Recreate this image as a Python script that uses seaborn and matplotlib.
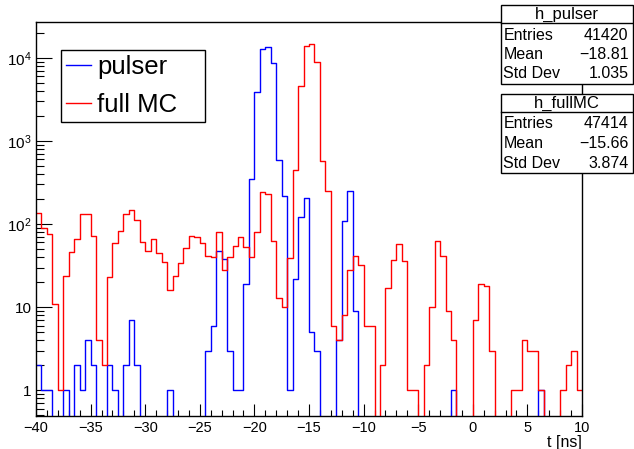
import numpy as np
import pandas as pd
import seaborn as sns
import matplotlib.pyplot as plt
from matplotlib.ticker import MultipleLocator, LogLocator, FixedLocator, FixedFormatter, NullFormatter
from matplotlib.patches import Rectangle

# histogram binning: 100 bins of 0.5 ns between -40 and 10 ns
t_min = -40.0
t_max = 10.0
n_bins = 100

# bin contents (bin 0 = [-40, -39.5))
pulser_counts = [
    2, 1, 1, 0, 0, 1, 0, 2, 1, 4,
    2, 0, 0, 2, 1, 0, 2, 7, 2, 0,
    0, 0, 0, 0, 1, 0, 0, 0, 0, 0,
    0, 3, 6, 48, 38, 3, 1, 1, 19, 353,
    3917, 12700, 13670, 8790, 584, 218, 1, 22, 120, 207,
    5, 3, 0, 0, 0, 4, 110, 250, 9, 0,
    0, 0, 0, 0, 0, 0, 0, 0, 0, 0,
    0, 0, 0, 0, 0, 0, 1, 0, 0, 0,
    0, 0, 0, 0, 0, 0, 0, 0, 0, 0,
    0, 0, 1, 0, 0, 0, 0, 0, 0, 0,
]
fullmc_counts = [
    134, 90, 75, 11, 1, 24, 46, 66, 133, 131,
    72, 4, 2, 23, 59, 83, 133, 147, 113, 61,
    47, 66, 45, 35, 16, 24, 34, 52, 72, 69,
    59, 41, 40, 80, 28, 40, 55, 69, 53, 40,
    80, 244, 229, 63, 13, 10, 39, 443, 4536, 13930,
    14850, 8955, 580, 248, 6, 4, 8, 28, 41, 32,
    6, 6, 0, 2, 17, 37, 58, 36, 1, 1,
    0, 2, 10, 62, 41, 9, 4, 0, 0, 0,
    7, 19, 18, 3, 0, 0, 0, 1, 1, 4,
    3, 3, 1, 0, 0, 0, 1, 2, 3, 1,
]

stat_labels = ["Entries", "Mean", "Std Dev"]
pulser_stats = ["41420", "\u221218.81", "1.035"]
fullmc_stats = ["47414", "\u221215.66", "3.874"]

y_ticks = [1, 10, 100, 1000, 10000]
y_ticklabels = ["1", "10", r"$\mathregular{10^{2}}$", r"$\mathregular{10^{3}}$", r"$\mathregular{10^{4}}$"]

plt.rcParams['font.family'] = ['Liberation Sans', 'DejaVu Sans']

W, H = 634, 449
fig = plt.figure(figsize=(W / 100, H / 100), dpi=100)
fig.patch.set_facecolor('white')

# frame in pixels: x 36..582, y 22..416
ax = fig.add_axes([36 / W, 1 - 416 / H, 546 / W, 394 / H])

edges = np.linspace(t_min, t_max, n_bins + 1)
centers = 0.5 * (edges[:-1] + edges[1:])
pulser_df = pd.DataFrame({'t': centers, 'n': pulser_counts})
fullmc_df = pd.DataFrame({'t': centers, 'n': fullmc_counts})

sns.histplot(data=pulser_df, x='t', weights='n', bins=list(edges), element='step', fill=False,
             color='#0000ff', linewidth=1.0, label='pulser', ax=ax)
sns.histplot(data=fullmc_df, x='t', weights='n', bins=list(edges), element='step', fill=False,
             color='#ff0000', linewidth=1.0, label='full MC', ax=ax)

ax.set_yscale('log')
ax.set_xlim(t_min, t_max)
ax.set_ylim(0.49, 2.7e4)
ax.set_ylabel('')
ax.set_xlabel('')
fig.text(582 / W, 1 - 442 / H, 't [ns]', ha='right', va='center', fontsize=11.5)

ax.xaxis.set_major_locator(MultipleLocator(5))
ax.xaxis.set_minor_locator(MultipleLocator(1))
ax.yaxis.set_major_locator(FixedLocator(y_ticks))
ax.yaxis.set_major_formatter(FixedFormatter(y_ticklabels))
ax.yaxis.set_minor_locator(LogLocator(base=10, subs=np.arange(2, 10)))
ax.yaxis.set_minor_formatter(NullFormatter())

ax.tick_params(axis='both', which='both', direction='in', top=False, right=False, width=0.8)
ax.tick_params(axis='x', which='major', length=8.5, pad=3.5, labelsize=10.5)
ax.tick_params(axis='x', which='minor', length=4.2)
ax.tick_params(axis='y', which='major', length=11.8, pad=3, labelsize=11)
ax.tick_params(axis='y', which='minor', length=5.9)
for sp in ax.spines.values():
    sp.set_linewidth(1.0)
    sp.set_color('black')

leg = ax.legend(loc='upper left', bbox_to_anchor=(61 / W, 1 - 122 / H, 144 / W, 72 / H),
                bbox_transform=fig.transFigure, mode='expand', borderaxespad=0,
                fontsize=18.5, frameon=True, fancybox=False, shadow=False, framealpha=1,
                edgecolor='black', borderpad=0.2, labelspacing=0.55,
                handlelength=0.97, handletextpad=0.23)
leg.get_frame().set_linewidth(1.0)


def stat_box(top, sep, bottom, rows, name, values):
    x0, x1 = 501, 633
    fig.add_artist(Rectangle((x0 / W, 1 - bottom / H), (x1 - x0) / W, (bottom - top) / H,
                             transform=fig.transFigure, facecolor='white',
                             edgecolor='black', linewidth=1.0))
    fig.add_artist(plt.Line2D([x0 / W, x1 / W], [1 - sep / H, 1 - sep / H],
                              transform=fig.transFigure, color='black', linewidth=1.0))
    fig.text((x0 + x1) / 2 / W, 1 - (top + sep) / 2 / H, name, ha='center', va='center',
             fontsize=12)
    for yc, lab, val in zip(rows, stat_labels, values):
        fig.text((x0 + 2.5) / W, 1 - yc / H, lab, ha='left', va='center', fontsize=11.5)
        fig.text((x1 - 4.5) / W, 1 - yc / H, val, ha='right', va='center', fontsize=11.5)


stat_box(5, 23, 84, [35, 54.5, 74], 'h_pulser', pulser_stats)
stat_box(94, 112, 173, [124, 143.5, 163], 'h_fullMC', fullmc_stats)

fig.savefig('out.png', dpi=100)
